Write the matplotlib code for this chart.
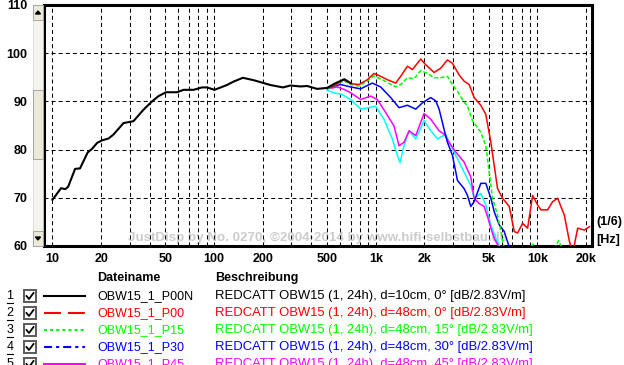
import matplotlib
matplotlib.use('Agg')
import matplotlib.pyplot as plt
from matplotlib.patches import Rectangle, Polygon
from matplotlib.lines import Line2D

plt.rcParams['font.family'] = ['Liberation Sans', 'DejaVu Sans']
plt.rcParams['lines.scale_dashes'] = False

# ---------------- data ----------------
f_p00n = [10, 11.3, 12.0, 12.5, 13.8, 14.8, 16.5, 17.5, 18.9, 20.2, 22.2, 23.8, 27.5, 31.7,
          36.6, 41.3, 45.3, 50.4, 58.9, 64.7, 74.6, 84.1, 90.4, 100.6, 120, 131.7, 150.7,
          175.6, 197.9, 222.7, 267, 296.6, 342, 376, 433, 502, 550, 639, 700]
db_p00n = [69.6, 72.0, 71.8, 72.3, 76.0, 76.1, 79.4, 80.1, 81.4, 81.9, 82.3, 83.1, 85.5, 85.9,
           88.3, 90.0, 91.1, 91.9, 91.9, 92.4, 92.4, 92.9, 92.9, 92.4, 93.4, 94.1, 94.9,
           94.4, 93.9, 93.4, 92.9, 93.3, 93.1, 93.2, 92.6, 92.8, 93.6, 94.6, 93.8]

f_p00 = [501, 551, 636, 699, 787, 887, 975, 1072, 1180, 1328, 1426, 1570, 1686, 1898, 2038,
         2296, 2524, 2777, 2982, 3278, 3521, 3782, 4061, 4466, 4796, 5156, 5406, 5669, 6088,
         6697, 7193, 7543, 8099, 8700, 9343, 10034, 10520, 11570, 12425, 13350, 14682, 15770,
         16538, 17755, 19527, 20982]
db_p00 = [92.8, 93.3, 94.5, 93.7, 93.5, 94.5, 95.8, 95.2, 94.5, 93.8, 95.2, 97.3, 96.6, 98.8, 97.6,
          96.0, 96.9, 98.6, 97.9, 95.5, 94.2, 93.5, 90.8, 89.2, 87.3, 81.5, 76.7, 71.9, 69.9,
          68.2, 63.0, 62.7, 64.7, 63.7, 70.5, 68.5, 67.5, 67.5, 69.2, 69.9, 66.4, 61.0,
          58.5, 63.7, 63.3, 64.0]

f_p15 = [501, 636, 699, 787, 887, 975, 1098, 1328, 1426, 1570, 1726, 1898, 2088, 2296, 2524,
         2777, 2982, 3202, 3437, 3693, 3966, 4466, 4796, 5034, 5279, 5669, 5945, 6235, 7200,
         8500, 9400, 10200, 12000, 13500, 14500, 16000]
db_p15 = [92.6, 94.3, 93.5, 93.2, 94.2, 95.3, 94.5, 93.0, 93.5, 94.9, 94.7, 96.4, 95.8, 94.9, 94.9,
          95.2, 93.5, 92.1, 90.4, 89.0, 86.0, 83.6, 80.8, 75.3, 69.9, 66.4, 63.0, 59.5, 56.0,
          57.5, 60.4, 58.0, 57.5, 61.1, 59.0, 56.0]

f_p30 = [501, 606, 699, 806, 887, 952, 1072, 1237, 1393, 1570, 1767, 1944, 2190, 2351, 2465,
         2647, 2777, 2982, 3202, 3521, 3693, 3873, 4061, 4466, 4796, 5156, 5406, 5805, 6235,
         6697, 7500]
db_p30 = [92.8, 93.5, 93.0, 92.6, 93.3, 93.8, 93.0, 90.8, 88.7, 89.2, 88.4, 89.7, 90.8, 90.1, 88.4,
          84.2, 81.5, 78.8, 73.6, 71.9, 70.5, 68.2, 69.2, 73.0, 73.0, 69.9, 67.1, 64.4, 63.0,
          59.8, 56.0]

f_p45 = [501, 578, 636, 699, 806, 930, 1022, 1151, 1297, 1393, 1495, 1608, 1767, 1990, 2190,
         2465, 2647, 2844, 3126, 3521, 3873, 4061, 4361, 4684, 4916, 5156, 5406, 5669, 5945]
db_p45 = [92.6, 93.0, 92.5, 91.8, 90.4, 91.1, 90.4, 87.7, 84.9, 80.8, 81.5, 83.9, 82.9, 87.5, 86.3,
          83.9, 83.2, 81.5, 79.5, 77.4, 74.3, 69.9, 68.8, 68.2, 66.1, 63.7, 61.6, 60.3, 59.0]

f_p60 = [501, 551, 621, 699, 806, 908, 998, 1124, 1267, 1360, 1412, 1495, 1608, 1767, 1990,
         2190, 2408, 2710, 2844, 3202, 3521, 3873, 4061, 4466, 4796, 5156, 5535, 5945]
db_p60 = [92.3, 91.8, 91.4, 90.4, 88.4, 88.7, 89.0, 86.3, 82.2, 78.8, 77.3, 80.8, 83.9, 82.2, 86.0,
          83.9, 82.2, 83.2, 81.5, 78.1, 75.3, 72.6, 69.9, 70.9, 68.5, 64.4, 61.6, 59.5]

major_ticks = [10, 20, 50, 100, 200, 500, 1000, 2000, 5000, 10000, 20000]
major_labels = ['10', '20', '50', '100', '200', '500', '1k', '2k', '5k', '10k', '20k']
y_ticks = [60, 70, 80, 90, 100, 110]

file_names = ['OBW15_1_P00N', 'OBW15_1_P00', 'OBW15_1_P15', 'OBW15_1_P30', 'OBW15_1_P45']
descriptions = ['REDCATT OBW15 (1, 24h), d=10cm, 0° [dB/2.83V/m]',
                'REDCATT OBW15 (1, 24h), d=48cm, 0° [dB/2.83V/m]',
                'REDCATT OBW15 (1, 24h), d=48cm, 15° [dB/2.83V/m]',
                'REDCATT OBW15 (1, 24h), d=48cm, 30° [dB/2.83V/m]',
                'REDCATT OBW15 (1, 24h), d=48cm, 45° [dB/2.83V/m]']
colors = ['#000000', '#ff0000', '#00ff00', '#0000ff', '#ff00ff', '#00ffff']

# ---------------- figure ----------------
W, H = 624, 365
fig = plt.figure(figsize=(W / 100, H / 100), dpi=100)
fig.patch.set_facecolor('white')


def fx(x):
    return x / W


def fy(y):
    return 1 - y / H


ax = fig.add_axes([fx(44), fy(246), 548 / W, 241 / H])
ax.set_xscale('log')
ax.set_xlim(8.86, 21770)
ax.set_ylim(60, 110)

minor = []
for dec in [10, 100, 1000]:
    for m in range(1, 10):
        v = dec * m
        if v not in major_ticks:
            minor.append(v)
ax.set_xticks(major_ticks)
ax.set_xticklabels(major_labels)
ax.set_xticks(minor, minor=True)
ax.xaxis.set_minor_formatter(matplotlib.ticker.NullFormatter())
ax.set_yticks(y_ticks)
ax.set_yticklabels([str(v) for v in y_ticks])
ax.tick_params(which='both', length=0)
ax.tick_params(axis='x', pad=5, labelsize=9)
ax.tick_params(axis='y', pad=12, labelsize=9)
for lab in ax.get_xticklabels() + ax.get_yticklabels():
    lab.set_fontweight('bold')

ax.grid(which='both', axis='x', color='black', lw=0.75, dashes=(2.9, 2.2))
ax.grid(which='major', axis='y', color='black', lw=0.75, dashes=(2.9, 2.2))
for s in ax.spines.values():
    s.set_linewidth(2.2)

ax.text(0.5, 0.035, 'JustDisp by No. 0270, \u00a92004-2014 by www.hifi-selbstbau.de',
        transform=ax.transAxes, ha='center', va='center', color='#cccccc',
        fontsize=9.6, fontweight='bold', zorder=1)

ax.plot(f_p60, db_p60, color=colors[5], lw=1.1, zorder=3)
ax.plot(f_p45, db_p45, color=colors[4], lw=1.1, zorder=3)
ax.plot(f_p30, db_p30, color=colors[3], lw=1.1, zorder=3)
ax.plot(f_p15, db_p15, color=colors[2], lw=1.1, dashes=(3, 1.5), zorder=3)
ax.plot(f_p00, db_p00, color=colors[1], lw=1.1, zorder=3)
ax.plot(f_p00n, db_p00n, color=colors[0], lw=1.5, zorder=4)

# right side labels
fig.text(fx(596), fy(222), '(1/6)', fontsize=9, fontweight='bold', va='center', ha='left')
fig.text(fx(596), fy(240), '[Hz]', fontsize=9, fontweight='bold', va='center', ha='left')


# scrollbar
def rect(x0, y0, x1, y1, **kw):
    r = Rectangle((fx(x0), fy(y1)), fx(x1) - fx(x0), fy(y0) - fy(y1),
                  transform=fig.transFigure, **kw)
    fig.add_artist(r)


rect(33, 5, 43, 246, facecolor='#f4f3ee', edgecolor='#d8d8d8', lw=0.5)
rect(33, 5, 43, 20, facecolor='#ece9d8', edgecolor='#9a9a9a', lw=0.6)
rect(33, 231, 43, 246, facecolor='#ece9d8', edgecolor='#9a9a9a', lw=0.6)
rect(33, 90, 43, 159, facecolor='#ece9d8', edgecolor='#9a9a9a', lw=0.6)
fig.add_artist(Polygon([(fx(35.5), fy(14)), (fx(40.5), fy(14)), (fx(38), fy(11))],
                       closed=True, transform=fig.transFigure, color='black'))
fig.add_artist(Polygon([(fx(35.5), fy(237)), (fx(40.5), fy(237)), (fx(38), fy(240))],
                       closed=True, transform=fig.transFigure, color='black'))

# legend table
fig.text(fx(97), fy(278), 'Dateiname', fontsize=9, fontweight='bold', va='center')
fig.text(fx(215), fy(278), 'Beschreibung', fontsize=9, fontweight='bold', va='center')

row_y = [296, 313, 330, 347, 364]
styles = [dict(ls='-'), dict(dashes=(12.2, 5)), dict(dashes=(2.2, 2.2)),
          dict(dashes=(5.8, 2.9, 2.2, 2.9)), dict(ls='-')]
for i, y in enumerate(row_y):
    c = colors[i]
    fig.text(fx(10), fy(y), str(i + 1), fontsize=9, va='center', ha='center')
    fig.add_artist(Line2D([fx(7), fx(13)], [fy(y + 7), fy(y + 7)],
                          transform=fig.transFigure, color='black', lw=0.8))
    rect(24, y - 6, 36, y + 6, facecolor='white', edgecolor='#5a5a5a', lw=1.4)
    fig.add_artist(Line2D([fx(26.5), fx(29), fx(33.5)], [fy(y), fy(y + 3), fy(y - 3)],
                          transform=fig.transFigure, color='black', lw=1.3))
    fig.add_artist(Line2D([fx(44), fx(85)], [fy(y), fy(y)], transform=fig.transFigure,
                          color=c, lw=1.5, **styles[i]))
    fig.text(fx(97), fy(y), file_names[i], fontsize=9, va='center', color=c)
    fig.text(fx(215), fy(y), descriptions[i], fontsize=9.4, va='center', color=c)

fig.savefig('out.png', dpi=100)
